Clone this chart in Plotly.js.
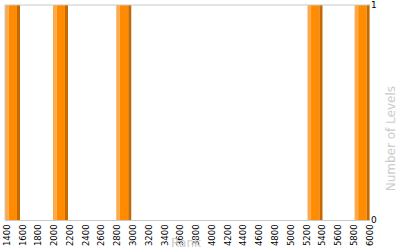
<!DOCTYPE html>
<html>
<head>
<meta charset="utf-8">
<script src="https://cdn.plot.ly/plotly-3.0.1.min.js"></script>
<style>html,body{margin:0;padding:0;background:#fff;}#chart{width:400px;height:250px;}</style>
</head>
<body>
<div id="chart"></div>
<script>
const ranks = [1470, 2078, 2880, 5303, 5900];
const levels = [1, 1, 1, 1, 1];
const xTicks = [1400,1600,1800,2000,2200,2400,2600,2800,3000,3200,3400,3600,3800,4000,4200,4400,4600,4800,5000,5200,5400,5600,5800,6000];

const parts = [
  {color: '#FFA94D', w: 45, off: -95},
  {color: '#FF8C00', w: 107, off: -50},
  {color: '#C46A00', w: 38, off: 57}
];
const traces = parts.map(p => ({
  type: 'bar',
  x: ranks,
  y: levels,
  width: ranks.map(() => p.w),
  offset: ranks.map(() => p.off),
  marker: {color: p.color, line: {width: 0}},
  hoverinfo: 'skip',
  showlegend: false
}));

const layout = {
  width: 400, height: 250,
  margin: {l: 5, r: 30, t: 5, b: 30},
  paper_bgcolor: '#fff', plot_bgcolor: '#fff',
  barmode: 'overlay',
  font: {family: 'DejaVu Sans', size: 8, color: '#000'},
  xaxis: {
    range: [1375, 6000],
    tickvals: xTicks,
    ticktext: xTicks.map(String),
    tickangle: -90,
    tickfont: {size: 8.5, color: '#000'},
    ticklabeloverflow: 'allow',
    showgrid: false, zeroline: false,
    showline: true, linecolor: '#c8c8c8', linewidth: 1,
    ticks: '', ticklen: 0
  },
  yaxis: {
    range: [0, 1],
    side: 'right',
    tickvals: [0, 1],
    ticktext: ['0', '1'],
    tickfont: {size: 9, color: '#000'},
    ticklabeloverflow: 'allow',
    showgrid: false, zeroline: false,
    showline: false,
    ticks: ''
  },
  annotations: [
    {text: 'Rank', xref: 'paper', yref: 'paper', x: 0.497, y: -0.105, xanchor: 'center', yanchor: 'middle',
     showarrow: false, font: {size: 12, color: '#cccccc'}},
    {text: 'Number of Levels', xref: 'paper', yref: 'paper', x: 1.0575, y: 0.38, xanchor: 'center', yanchor: 'middle',
     textangle: -90, showarrow: false, font: {size: 12, color: '#cccccc'}}
  ],
  shapes: [
    {type: 'line', xref: 'paper', yref: 'paper', x0: 0, x1: 1, y0: 1, y1: 1, line: {color: '#c8c8c8', width: 1}},
    {type: 'line', xref: 'paper', yref: 'paper', x0: 0, x1: 0, y0: 0, y1: 1, line: {color: '#c8c8c8', width: 1}}
  ]
};

Plotly.newPlot('chart', traces, layout, {displayModeBar: false, staticPlot: true});
</script>
</body>
</html>
